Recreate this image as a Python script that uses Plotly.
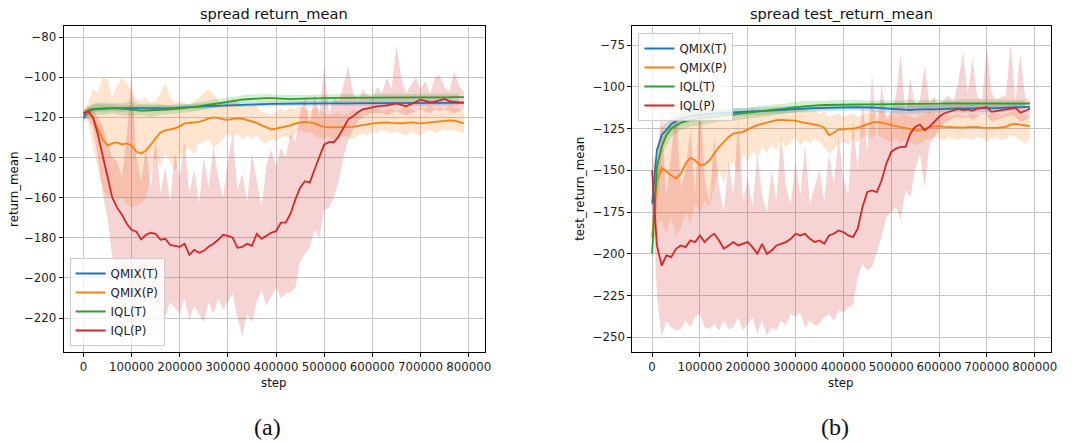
import plotly.graph_objects as go

# ---------------------------------------------------------------------------
# Training curves on the "spread" task: mean return (a) and test return (b)
# ---------------------------------------------------------------------------
SERIES = ["QMIX(T)", "QMIX(P)", "IQL(T)", "IQL(P)"]
COLORS = ["#1f77b4", "#ff7f0e", "#2ca02c", "#d62728"]
BANDS = ["rgba(31,119,180,0.2)", "rgba(255,127,14,0.2)",
         "rgba(44,160,44,0.2)", "rgba(214,39,40,0.2)"]

STEPS = list(range(0, 800000, 10000))        # mean curves and P-series bands
STEPS_T = list(range(0, 800000, 20000))      # T-series bands
X_TICKS = [0, 100000, 200000, 300000, 400000, 500000, 600000, 700000, 800000]
Y_TICKS_A = [-220, -200, -180, -160, -140, -120, -100, -80]
Y_TICKS_B = [-250, -225, -200, -175, -150, -125, -100, -75]

# ----------------------------- (a) return_mean ------------------------------
qmix_t_a = [-120.5, -117.0, -116.0, -115.8, -115.6, -115.5, -115.5, -115.4, -115.4, -115.4,
            -115.5, -115.5, -115.6, -115.6, -115.5, -115.5, -115.4, -115.4, -115.3, -115.3,
            -115.2, -115.0, -114.8, -114.7, -114.6, -114.5, -114.4, -114.3, -114.2, -114.0,
            -113.9, -113.8, -113.7, -113.6, -113.5, -113.5, -113.4, -113.3, -113.3, -113.3,
            -113.3, -113.2, -113.2, -113.2, -113.1, -113.1, -113.1, -113.0, -113.0, -113.0,
            -113.0, -113.0, -112.9, -112.9, -113.0, -113.0, -112.9, -112.9, -112.9, -112.9,
            -112.9, -112.9, -112.8, -112.8, -112.9, -112.9, -112.8, -112.8, -112.8, -112.8,
            -112.8, -112.8, -112.8, -112.8, -112.8, -112.8, -112.8, -112.8, -112.8, -112.8]
qmix_p_a = [-118.0, -117.5, -120.5, -125.5, -131.0, -134.0, -133.0, -132.5, -133.5, -133.0,
            -134.0, -137.0, -138.0, -136.5, -133.5, -130.0, -127.5, -126.5, -126.0, -125.5,
            -124.5, -123.0, -122.8, -122.5, -122.3, -121.5, -120.5, -120.0, -120.3, -121.0,
            -121.3, -120.8, -120.5, -120.7, -121.5, -122.0, -122.8, -124.0, -125.0, -126.0,
            -125.6, -125.0, -124.5, -124.0, -123.0, -122.5, -122.3, -122.5, -123.0, -124.0,
            -124.8, -125.0, -125.0, -124.8, -124.8, -125.0, -124.8, -124.3, -124.0, -123.5,
            -123.0, -122.8, -122.5, -122.5, -122.8, -123.0, -123.0, -122.8, -122.5, -122.8,
            -123.0, -122.8, -122.5, -122.3, -122.0, -121.8, -121.5, -121.7, -122.3, -123.0]
iql_t_a = [-118.0, -116.5, -115.8, -115.6, -115.5, -115.4, -115.4, -115.5, -115.7, -115.9,
           -116.2, -116.5, -116.7, -116.6, -116.4, -116.3, -116.2, -116.1, -116.0, -115.8,
           -115.6, -115.4, -115.1, -114.8, -114.5, -114.1, -113.7, -113.3, -112.9, -112.5,
           -112.1, -111.8, -111.5, -111.2, -111.0, -110.8, -110.6, -110.5, -110.4, -110.4,
           -110.6, -110.8, -110.9, -110.9, -110.8, -110.7, -110.6, -110.5, -110.4, -110.4,
           -110.4, -110.3, -110.3, -110.3, -110.3, -110.2, -110.2, -110.2, -110.2, -110.2,
           -110.2, -110.1, -110.1, -110.1, -110.1, -110.1, -110.1, -110.1, -110.0, -110.0,
           -110.0, -110.0, -110.0, -110.0, -110.0, -110.0, -110.0, -109.9, -109.9, -109.9]
iql_p_a = [-118.0, -117.0, -120.0, -128.5, -139.0, -150.0, -160.0, -165.0, -168.5, -173.0,
           -176.0, -177.0, -180.8, -178.5, -177.5, -178.0, -181.0, -180.5, -183.5, -184.0,
           -184.5, -183.0, -188.5, -186.0, -187.5, -186.5, -184.5, -183.0, -181.0, -178.5,
           -179.0, -180.0, -185.0, -184.5, -183.0, -184.0, -178.0, -180.5, -179.0, -177.5,
           -176.7, -172.5, -172.5, -168.0, -161.0, -155.0, -151.8, -152.5, -146.0, -140.0,
           -133.5, -132.4, -132.4, -129.5, -125.0, -121.0, -119.5, -117.5, -116.0, -115.5,
           -114.8, -114.5, -114.3, -114.1, -113.5, -113.1, -113.8, -114.5, -113.5, -112.5,
           -111.2, -111.8, -112.5, -112.2, -111.5, -110.8, -112.0, -112.3, -112.5, -112.5]

qmix_t_a_hi = [-118.0, -113.5, -113.2, -113.6, -113.8, -114.0, -113.8, -114.1, -113.9, -114.0,
               -113.8, -113.5, -113.4, -113.1, -112.9, -112.6, -112.4, -112.2, -112.1, -112.0,
               -112.0, -111.9, -111.8, -112.0, -111.9, -111.7, -111.8, -111.9, -111.7, -111.8,
               -111.6, -111.8, -111.7, -111.6, -111.8, -111.5, -111.7, -111.6, -111.5, -111.4]
qmix_t_a_lo = [-122.5, -117.5, -117.4, -117.0, -117.2, -116.9, -117.1, -116.8, -117.0, -116.8,
               -116.5, -116.3, -116.0, -115.6, -115.3, -115.0, -114.8, -114.6, -114.5, -114.4,
               -114.3, -114.3, -114.2, -114.4, -114.5, -114.3, -114.2, -114.4, -114.2, -114.3,
               -114.2, -114.4, -114.3, -114.2, -114.4, -114.3, -114.1, -114.3, -114.2, -114.1]
iql_t_a_hi = [-116.5, -113.0, -112.5, -113.0, -112.8, -112.0, -113.5, -113.0, -113.5, -114.0,
              -113.8, -113.2, -112.5, -111.5, -110.8, -110.0, -109.3, -108.8, -108.6, -108.4,
              -108.8, -108.9, -108.7, -108.9, -108.7, -108.5, -108.6, -108.4, -108.5, -108.4,
              -108.3, -108.5, -108.4, -108.2, -108.4, -108.3, -108.1, -108.3, -108.2, -108.2]
iql_t_a_lo = [-120.0, -118.5, -118.8, -118.0, -119.0, -119.5, -119.0, -119.8, -118.8, -118.5,
              -118.0, -117.5, -116.8, -115.8, -114.8, -113.8, -113.0, -112.5, -112.3, -112.2,
              -112.6, -112.8, -112.6, -112.4, -112.2, -112.3, -112.2, -112.0, -112.1, -112.0,
              -111.9, -112.1, -112.0, -111.8, -111.9, -111.8, -111.7, -111.8, -111.7, -111.6]
qmix_p_a_hi = [-116.5, -113, -106, -108, -100, -101, -110, -104, -100, -103,
               -108, -111, -112, -110, -113, -112, -108, -103, -110, -113,
               -112, -113, -114, -112, -110, -108, -106, -108, -112, -114,
               -113, -110, -112, -114, -115, -113, -115, -117, -118, -119,
               -117, -116, -117, -115, -116, -114, -116, -117, -115, -116,
               -118, -119, -118, -117, -119, -118, -116, -117, -116, -115,
               -116, -115, -117, -116, -115, -117, -116, -114, -116, -117,
               -115, -116, -114, -116, -115, -116, -114, -115, -116, -117]
qmix_p_a_lo = [-119.5, -122, -135, -145, -155, -160, -158, -162, -160, -163,
               -165, -164, -163, -160, -148, -140, -145, -138, -142, -147,
               -140, -137, -135, -139, -133, -132, -131, -135, -133, -131,
               -128, -130, -128, -131, -129, -131, -129, -132, -133, -131,
               -132, -130, -129, -131, -128, -126, -128, -127, -129, -130,
               -131, -129, -131, -130, -129, -130, -131, -129, -128, -129,
               -127, -128, -126, -127, -128, -127, -128, -129, -127, -128,
               -129, -127, -126, -128, -127, -126, -127, -126, -127, -128]
iql_p_a_hi = [-116.5, -114.5, -116, -120, -124, -133, -140, -142, -150, -130,
              -97, -140, -152, -135, -155, -130, -158, -145, -162, -138,
              -150, -132, -158, -146, -163, -140, -155, -134, -150, -160,
              -142, -128, -156, -148, -162, -138, -152, -165, -144, -136,
              -145, -135, -140, -128, -132, -118, -110, -125, -108, -120,
              -95, -118, -110, -112, -104, -94, -108, -112, -106, -109,
              -110, -105, -108, -100, -106, -84, -100, -108, -104, -100,
              -106, -102, -108, -100, -99, -105, -107, -97, -104, -108]
iql_p_a_lo = [-119.5, -121, -125, -140, -158, -170, -190, -198, -203, -200,
              -210, -205, -212, -208, -215, -210, -218, -220, -212, -215,
              -218, -210, -221, -214, -218, -222, -212, -218, -210, -216,
              -212, -208, -220, -229, -218, -222, -212, -206, -214, -209,
              -205, -210, -208, -207, -205, -192, -188, -185, -176, -180,
              -166, -165, -160, -152, -140, -131, -126, -122, -120, -119,
              -118, -118, -118, -119, -118, -117, -118, -119, -118, -117,
              -116, -117, -118, -116, -117, -116, -117, -118, -117, -116]

# --------------------------- (b) test_return_mean ---------------------------
qmix_t_b = [-170.0, -138.0, -129.0, -125.5, -122.5, -120.5, -119.3, -118.3, -117.6, -117.2,
            -116.8, -116.5, -116.2, -116.0, -115.8, -115.6, -115.5, -115.3, -115.2, -115.0,
            -114.9, -114.8, -114.6, -114.5, -114.3, -114.2, -114.0, -113.8, -113.6, -113.4,
            -113.3, -113.2, -113.0, -112.9, -112.8, -112.7, -112.6, -112.5, -112.4, -112.3,
            -112.2, -112.0, -112.0, -112.2, -112.3, -112.2, -112.4, -112.6, -112.8, -113.0,
            -113.2, -113.4, -113.6, -113.8, -113.9, -113.7, -113.5, -113.3, -113.4, -113.5,
            -113.3, -113.2, -113.0, -112.8, -112.9, -113.0, -113.1, -113.0, -112.9, -112.8,
            -112.9, -113.0, -112.8, -112.6, -112.5, -112.4, -112.3, -112.2, -112.1, -112.0]
qmix_p_b = [-190.0, -157.0, -148.5, -151.0, -153.0, -155.0, -152.0, -146.0, -142.5, -144.0,
            -147.0, -146.5, -144.0, -140.0, -136.0, -133.0, -130.0, -128.0, -127.5, -127.0,
            -125.5, -124.0, -123.0, -122.2, -121.5, -120.5, -120.0, -119.8, -119.8, -120.0,
            -120.2, -121.0, -121.5, -122.0, -122.5, -123.2, -124.5, -129.0, -127.5, -125.5,
            -125.5, -125.0, -125.0, -124.5, -123.5, -122.5, -121.5, -121.0, -121.5, -122.0,
            -123.0, -123.6, -124.5, -125.0, -125.5, -126.0, -126.2, -125.0, -124.2, -123.8,
            -123.6, -124.0, -124.2, -124.0, -124.2, -124.4, -124.2, -124.0, -124.2, -124.4,
            -124.6, -124.5, -124.6, -124.3, -124.0, -122.5, -122.2, -122.6, -123.2, -123.6]
iql_t_b = [-200.0, -148.0, -136.0, -129.0, -125.0, -123.0, -121.5, -120.5, -119.8, -119.3,
           -118.8, -118.4, -118.0, -117.6, -117.3, -117.0, -116.7, -116.5, -116.2, -116.0,
           -115.7, -115.4, -115.1, -114.8, -114.5, -114.1, -113.7, -113.3, -112.9, -112.5,
           -112.2, -111.9, -111.6, -111.4, -111.2, -111.0, -110.9, -110.8, -110.7, -110.7,
           -110.7, -110.6, -110.6, -110.6, -110.5, -110.5, -110.5, -110.5, -110.4, -110.4,
           -110.4, -110.4, -110.3, -110.3, -110.3, -110.3, -110.2, -110.2, -110.2, -110.1,
           -110.1, -110.0, -110.0, -109.9, -109.9, -109.8, -109.8, -109.7, -109.7, -109.6,
           -109.6, -109.7, -109.7, -109.8, -109.8, -109.9, -109.9, -110.0, -110.0, -110.0]
iql_p_b = [-150, -195, -207, -201, -202, -197, -195, -196, -192, -193,
           -189, -193, -190, -188, -192, -197, -195, -193, -195, -194,
           -193, -196, -200, -194, -200, -198, -195, -194, -193, -191,
           -188, -189, -188, -191, -193, -192, -194, -189, -188, -186,
           -187, -189, -190, -185, -172, -163, -162, -163, -156, -146,
           -139, -137, -136, -136, -128, -124, -122.6, -126, -124, -121,
           -118, -116, -115, -114, -113.2, -114, -113.6, -114.4, -113, -112.6,
           -112.2, -115, -114.5, -114, -113.6, -113, -112.6, -115.5, -114.5, -113]

qmix_t_b_hi = [-160.0, -124.0, -118.0, -115.5, -114.0, -113.5, -113.5, -113.0, -113.0, -113.0,
               -112.8, -112.5, -112.2, -112.0, -111.6, -111.3, -111.0, -110.8, -110.7, -110.5,
               -110.3, -110.0, -110.3, -110.5, -110.8, -111.0, -111.5, -111.0, -111.0, -111.0,
               -111.0, -110.8, -110.8, -111.0, -110.8, -111.0, -110.6, -110.5, -110.2, -110.0]
qmix_t_b_lo = [-185.0, -134.0, -127.0, -123.0, -121.0, -120.0, -119.0, -118.5, -118.0, -117.5,
               -117.0, -116.8, -116.5, -116.0, -115.6, -115.3, -115.0, -114.8, -114.6, -114.4,
               -114.2, -114.0, -114.5, -114.8, -115.5, -116.0, -116.5, -116.2, -116.0, -115.8,
               -115.5, -115.0, -115.2, -115.4, -115.0, -115.2, -114.8, -114.6, -114.5, -114.2]
iql_t_b_hi = [-195.0, -131.0, -120.0, -117.0, -115.0, -114.5, -114.0, -113.5, -113.0, -112.5,
              -112.5, -111.5, -111.0, -110.5, -110.0, -109.0, -108.5, -108.5, -108.3, -108.0,
              -108.2, -107.8, -108.1, -108.3, -107.9, -108.0, -108.2, -107.7, -108.0, -107.8,
              -107.6, -107.9, -107.7, -107.5, -107.8, -107.6, -107.4, -107.7, -107.9, -107.8]
iql_t_b_lo = [-205.0, -141.0, -130.0, -126.0, -124.0, -123.0, -122.0, -121.0, -120.5, -120.0,
              -119.0, -118.5, -118.0, -117.0, -116.0, -115.3, -114.5, -114.0, -113.5, -113.3,
              -113.2, -113.0, -113.1, -112.9, -112.8, -113.0, -112.7, -112.6, -112.8, -112.5,
              -112.4, -112.6, -112.3, -112.2, -112.4, -112.1, -112.2, -112.3, -112.1, -112.2]
qmix_p_b_hi = [-180, -140, -112, -125, -105, -118, -108, -102, -120, -112,
               -100, -115, -110, -118, -105, -115, -112, -116, -118, -115,
               -117, -112, -116, -114, -115, -113, -112, -114, -113, -115,
               -112, -114, -113, -115, -114, -116, -115, -118, -117, -116,
               -118, -117, -116, -118, -117, -115, -116, -114, -115, -117,
               -116, -118, -117, -116, -118, -119, -117, -116, -115, -116,
               -117, -116, -118, -117, -116, -118, -117, -116, -117, -118,
               -117, -116, -115, -117, -116, -115, -114, -116, -117, -118]
qmix_p_b_lo = [-200, -182, -180, -188, -178, -190, -185, -175, -182, -170,
               -176, -168, -172, -160, -150, -158, -148, -145, -152, -140,
               -145, -138, -142, -136, -140, -134, -138, -132, -136, -133,
               -130, -135, -132, -134, -131, -133, -136, -140, -138, -134,
               -133, -135, -131, -133, -130, -129, -131, -128, -130, -132,
               -133, -131, -134, -132, -133, -135, -134, -132, -131, -130,
               -131, -132, -130, -131, -132, -130, -131, -132, -130, -131,
               -133, -131, -130, -132, -131, -129, -130, -132, -134, -131]
iql_p_b_hi = [-140, -150, -120, -165, -140, -110, -160, -150, -125, -165,
              -100, -155, -170, -130, -160, -175, -145, -165, -120, -168,
              -155, -172, -140, -165, -175, -150, -168, -128, -160, -170,
              -145, -165, -135, -170, -160, -150, -168, -140, -158, -130,
              -155, -165, -120, -150, -108, -140, -92, -130, -98, -120,
              -115, -105, -80, -118, -95, -112, -108, -87, -110, -106,
              -112, -108, -105, -109, -98, -79, -104, -83, -106, -108,
              -76, -104, -108, -106, -105, -74, -109, -80, -106, -108]
iql_p_b_lo = [-155, -225, -250, -240, -244, -246, -245, -240, -244, -238,
              -236, -244, -245, -242, -246, -240, -245, -244, -238, -246,
              -242, -238, -248, -240, -249, -244, -246, -240, -243, -236,
              -238, -235, -244, -240, -243, -242, -238, -236, -240, -234,
              -235, -232, -231, -214, -206, -210, -208, -199, -190, -178,
              -175, -172, -180, -162, -166, -150, -140, -160, -135, -130,
              -126, -122, -120, -119, -118, -119, -118, -120, -118, -117,
              -117, -121, -120, -119, -118, -117, -118, -121, -120, -118]

PANELS = [
    dict(means=[qmix_t_a, qmix_p_a, iql_t_a, iql_p_a],
         bands=[(STEPS_T, qmix_t_a_hi, qmix_t_a_lo), (STEPS, qmix_p_a_hi, qmix_p_a_lo),
                (STEPS_T, iql_t_a_hi, iql_t_a_lo), (STEPS, iql_p_a_hi, iql_p_a_lo)],
         xa="x", ya="y", legend="legend"),
    dict(means=[qmix_t_b, qmix_p_b, iql_t_b, iql_p_b],
         bands=[(STEPS_T, qmix_t_b_hi, qmix_t_b_lo), (STEPS, qmix_p_b_hi, qmix_p_b_lo),
                (STEPS_T, iql_t_b_hi, iql_t_b_lo), (STEPS, iql_p_b_hi, iql_p_b_lo)],
         xa="x2", ya="y2", legend="legend2"),
]

W, H = 1084, 443
FONT = "DejaVu Sans"

fig = go.Figure()
for p in PANELS:
    # shaded spread first, so every mean curve sits on top
    for (xs, hi, lo), fc in zip(p["bands"], BANDS):
        fig.add_trace(go.Scatter(
            x=xs + xs[::-1], y=hi + lo[::-1], fill="toself", fillcolor=fc,
            mode="lines", line=dict(width=0), hoverinfo="skip", showlegend=False,
            xaxis=p["xa"], yaxis=p["ya"]))
    for name, ys, col in zip(SERIES, p["means"], COLORS):
        fig.add_trace(go.Scatter(
            x=STEPS, y=ys, mode="lines", name=name, line=dict(color=col, width=1.8),
            xaxis=p["xa"], yaxis=p["ya"], legend=p["legend"]))


def px_x(v):
    return v / W


def px_y(v):
    return 1 - v / H


axis_common = dict(
    showline=True, mirror=True, linecolor="black", linewidth=1,
    showgrid=True, gridcolor="#c4c4c4", gridwidth=1, zeroline=False,
    ticks="outside", ticklen=4, tickwidth=1, tickcolor="black",
    tickfont=dict(family=FONT, size=11.8, color="#222222"),
)
x_common = dict(axis_common, tickmode="array", tickvals=X_TICKS,
                ticktext=[str(t) for t in X_TICKS], range=[-41000, 834500])

legend_style = dict(bgcolor="rgba(255,255,255,0.8)", bordercolor="#cccccc", borderwidth=1,
                    font=dict(family=FONT, size=11.8, color="#222222"), tracegroupgap=0)

fig.update_layout(
    width=W, height=H, margin=dict(l=0, r=0, t=0, b=0),
    paper_bgcolor="white", plot_bgcolor="white",
    font=dict(family=FONT, size=11.8, color="#222222"),
    xaxis=dict(x_common, domain=[px_x(64), px_x(488)], anchor="y"),
    yaxis=dict(axis_common, domain=[px_y(352), px_y(26)], anchor="x",
               tickmode="array", tickvals=Y_TICKS_A, range=[-236.9, -74.5]),
    xaxis2=dict(x_common, domain=[px_x(636), px_x(1057)], anchor="y2"),
    yaxis2=dict(axis_common, domain=[px_y(352), px_y(26)], anchor="x2",
                tickmode="array", tickvals=Y_TICKS_B, range=[-258.8, -63.6]),
    legend=dict(legend_style, x=px_x(70), y=px_y(346), xanchor="left", yanchor="bottom"),
    legend2=dict(legend_style, x=px_x(642), y=px_y(33), xanchor="left", yanchor="top"),
    showlegend=True,
)

texts = [
    ("spread return_mean", px_x(276), px_y(14), 14.6, 0, FONT),
    ("spread test_return_mean", px_x(846), px_y(14), 14.6, 0, FONT),
    ("step", px_x(276), px_y(383), 11.8, 0, FONT),
    ("step", px_x(846), px_y(383), 11.8, 0, FONT),
    ("return_mean", px_x(14), px_y(189), 11.8, -90, FONT),
    ("test_return_mean", px_x(583), px_y(189), 11.8, -90, FONT),
    ("(a)", px_x(269), px_y(427), 24, 0, "Liberation Serif"),
    ("(b)", px_x(840), px_y(427), 24, 0, "Liberation Serif"),
]
for txt, x, y, size, ang, fam in texts:
    fig.add_annotation(text=txt, x=x, y=y, xref="paper", yref="paper",
                       xanchor="center", yanchor="middle", showarrow=False,
                       textangle=ang, font=dict(family=fam, size=size, color="#111111"))

fig.write_html("out.html")
